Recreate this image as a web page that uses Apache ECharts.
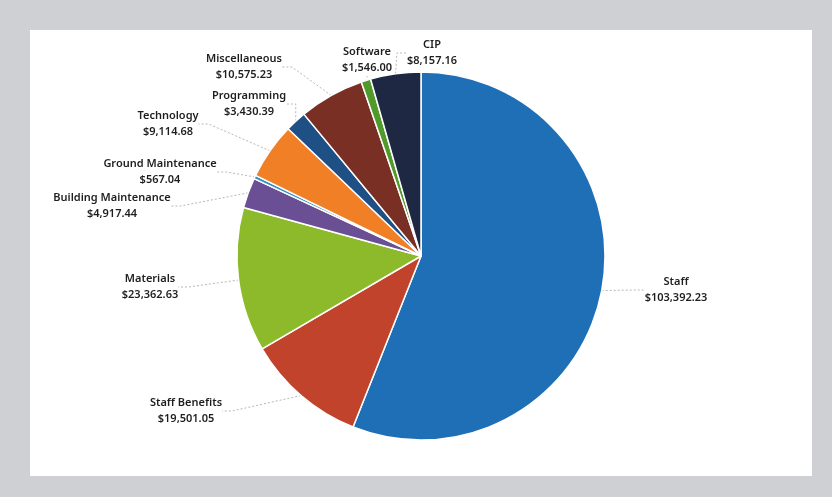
<!DOCTYPE html>
<html>
<head>
<meta charset="utf-8">
<script src="https://cdn.jsdelivr.net/npm/echarts@6/dist/echarts.min.js"></script>
<style>
html,body{margin:0;padding:0;background:#cfd0d3;}
#chart{width:832px;height:497px;}
</style>
</head>
<body>
<div id="chart"></div>
<script>
// Data
const categories = ["Staff", "Staff Benefits", "Materials", "Building Maintenance", "Ground Maintenance", "Technology", "Programming", "Miscellaneous", "Software", "CIP"];
const amounts = [103392.23, 19501.05, 23362.63, 4917.44, 567.04, 9114.68, 3430.39, 10575.23, 1546.00, 8157.16];

// Styles / layout (not data)
const sliceColors = ["#1f6fb6", "#c2432b", "#8dba2a", "#6a4f95", "#2f8fc6", "#f07f26", "#1e4f85", "#7a2f25", "#4f9a2b", "#1f2843"];
const labelCenters = [[676, 290], [186, 411], [150, 287], [112, 206], [160, 172], [168, 124], [249, 104], [244, 67], [367, 60], [432, 53]];

const fmt = v => '$' + v.toLocaleString('en-US', {minimumFractionDigits: 2, maximumFractionDigits: 2});

const chart = echarts.init(document.getElementById('chart'), null, {renderer: 'canvas'});
chart.setOption({
  backgroundColor: '#cfd0d3',
  animation: false,
  graphic: [{
    type: 'rect', left: 30, top: 30, z: -10,
    shape: {width: 782, height: 446},
    style: {fill: '#ffffff'}
  }],
  series: [{
    type: 'pie',
    center: [421, 256],
    radius: [0, 184],
    startAngle: 90,
    clockwise: true,
    avoidLabelOverlap: false,
    itemStyle: {borderColor: '#ffffff', borderWidth: 1.5},
    label: {
      show: true,
      position: 'outside',
      color: '#1e1e1e',
      fontFamily: 'Noto Sans',
      fontWeight: 600,
      fontSize: 11,
      lineHeight: 16,
      formatter: p => p.name + '\n' + fmt(p.value)
    },
    labelLine: {
      show: true,
      length: 10, length2: 10,
      lineStyle: {color: '#b8b8b8', width: 1, type: [2, 2]}
    },
    labelLayout: function (params) {
      const c = labelCenters[params.dataIndex];
      return {x: c[0], y: c[1], align: 'center', verticalAlign: 'middle'};
    },
    emphasis: {disabled: true},
    data: categories.map((n, i) => ({name: n, value: amounts[i], itemStyle: {color: sliceColors[i]}}))
  }]
});
</script>
</body>
</html>
